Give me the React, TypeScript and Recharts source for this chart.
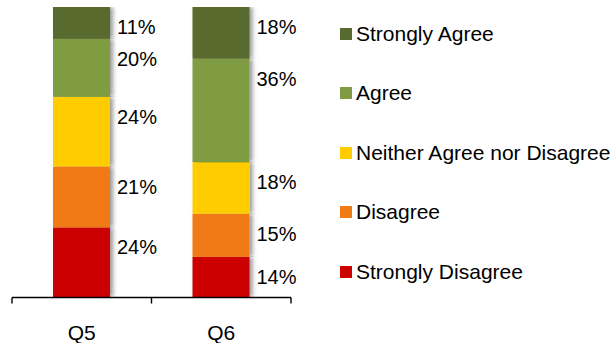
import React from 'react';
import { BarChart, Bar, XAxis, YAxis, Legend, LabelList } from 'recharts';

const questions = ['Q5', 'Q6'];
const stronglyDisagree = [24, 14];
const disagree = [21, 15];
const neither = [24, 18];
const agree = [20, 36];
const stronglyAgree = [11, 18];

// bottom of the stack first
const seriesNames = ['Strongly Disagree', 'Disagree', 'Neither Agree nor Disagree', 'Agree', 'Strongly Agree'];
const seriesColors = ['#CC0000', '#F27A14', '#FFCC00', '#7F9C42', '#586B2F'];
const seriesValues = [stronglyDisagree, disagree, neither, agree, stronglyAgree];

// baseline ticks on the category boundaries (fractions of the plot width)
const frameTicks = [0, 0.5, 1];

const FONT = '"Liberation Sans", Arial, sans-serif';

const data = questions.map((q, i) => {
  const row: Record<string, string | number> = { question: q };
  seriesNames.forEach((name, s) => {
    row[name] = seriesValues[s][i];
  });
  return row;
});

const ShadowedBar = (props: any) => {
  const { x, y, width, height, fill } = props;
  return <rect x={x} y={y} width={width} height={height} fill={fill} filter="url(#barShadow)" />;
};

const renderValue = (props: any) => {
  const { x, y, width, value } = props;
  return (
    <text
      x={Number(x) + Number(width) + 7}
      y={Number(y) + 20}
      dominantBaseline="central"
      fontSize={20}
      fontFamily={FONT}
      fill="#000"
    >
      {value}%
    </text>
  );
};

const LegendList = () => (
  <div style={{ fontFamily: FONT, fontSize: 21, color: '#000' }}>
    {seriesNames
      .map((name, i) => ({ name, color: seriesColors[i] }))
      .reverse()
      .map((item) => (
        <div key={item.name} style={{ display: 'flex', alignItems: 'center', height: 59.5, whiteSpace: 'nowrap' }}>
          <span style={{ width: 12, height: 12, background: item.color, marginRight: 4, flexShrink: 0 }} />
          <span>{item.name}</span>
        </div>
      ))}
  </div>
);

export default function App() {
  return (
    <div style={{ position: 'absolute', left: 0, top: 0 }}>
      <BarChart
        width={615}
        height={343}
        data={data}
        stackOffset="expand"
        margin={{ top: 7, right: 324, bottom: 0, left: 12 }}
      >
        <defs>
          <filter id="barShadow" x="-20%" y="0%" width="160%" height="100%">
            <feDropShadow dx="3" dy="0" stdDeviation="2" floodColor="#000" floodOpacity="0.4" />
          </filter>
        </defs>
        {/* category labels sit right under the plot, the framed baseline below them */}
        <XAxis
          xAxisId="cat"
          dataKey="question"
          height={0.5}
          axisLine={false}
          tickLine={false}
          tickMargin={22}
          tick={{ fill: '#000', fontSize: 21, fontFamily: FONT }}
        />
        <XAxis
          xAxisId="frame"
          type="number"
          domain={[0, 1]}
          ticks={frameTicks}
          interval={0}
          allowDataOverflow
          height={45.5}
          tickFormatter={() => ''}
          tickSize={6}
          axisLine={{ stroke: '#000', strokeWidth: 1.4 }}
          tickLine={{ stroke: '#000', strokeWidth: 1.4 }}
        />
        <YAxis hide />
        <Legend
          layout="vertical"
          align="center"
          verticalAlign="middle"
          content={<LegendList />}
          wrapperStyle={{ left: 340, top: 4, width: 275 }}
        />
        {seriesNames.map((name, i) => (
          <Bar
            key={name}
            xAxisId="cat"
            dataKey={name}
            stackId="a"
            fill={seriesColors[i]}
            barSize={57}
            shape={ShadowedBar}
            isAnimationActive={false}
          >
            <LabelList dataKey={name} content={renderValue} />
          </Bar>
        ))}
      </BarChart>
    </div>
  );
}
